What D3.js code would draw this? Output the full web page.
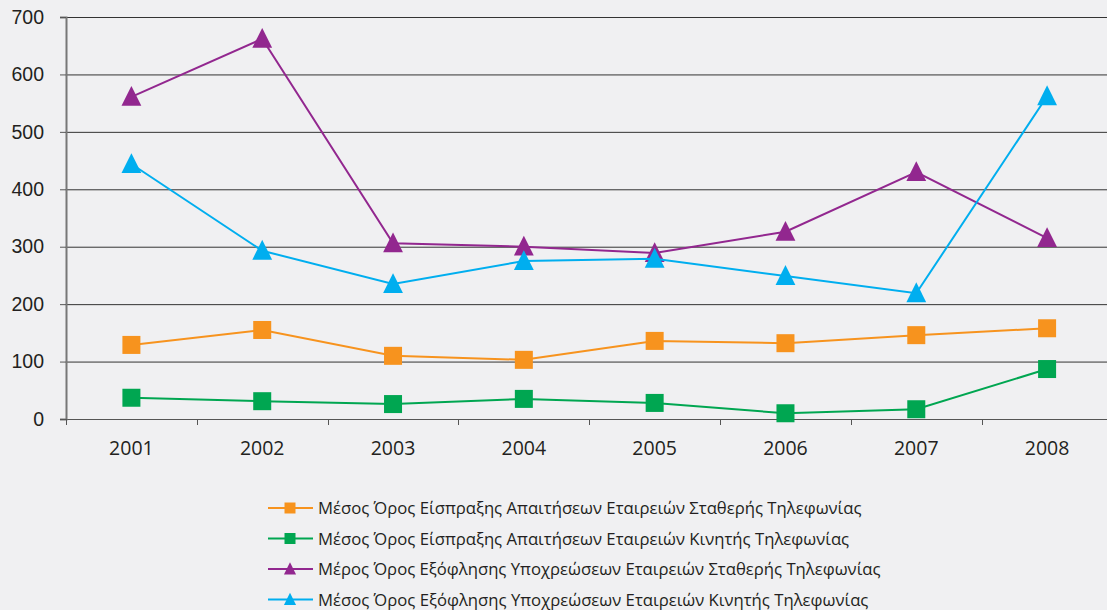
<!DOCTYPE html>
<html>
<head>
<meta charset="utf-8">
<script src="https://cdn.jsdelivr.net/npm/d3@7"></script>
<style>
body{margin:0;background:#f0f0f2;}
svg{display:block;font-family:"Open Sans","Noto Sans",sans-serif;}
</style>
</head>
<body>
<svg id="chart"></svg>
<script>
// data
var years=["2001","2002","2003","2004","2005","2006","2007","2008"];
var eispraxiStatheri=[129,155,110,103,136,132,146,158];
var eispraxiKiniti=[37,31,26,35,28,10,17,87];
var exoflisiStatheri=[561,662,306,300,289,326,430,315];
var exoflisiKiniti=[444,293,235,275,279,249,219,562];
var yTicks=[0,100,200,300,400,500,600,700];
var names=[
 "Μέσος Όρος Είσπραξης Απαιτήσεων Εταιρειών Σταθερής Τηλεφωνίας",
 "Μέσος Όρος Είσπραξης Απαιτήσεων Εταιρειών Κινητής Τηλεφωνίας",
 "Μέρος Όρος Εξόφλησης Υποχρεώσεων Εταιρειών Σταθερής Τηλεφωνίας",
 "Μέσος Όρος Εξόφλησης Υποχρεώσεων Εταιρειών Κινητής Τηλεφωνίας"];
var colors=["#f7931e","#00a651","#92278f","#00aeef"];
var shapes=["square","square","triangle","triangle"];

var series=[eispraxiStatheri,eispraxiKiniti,exoflisiStatheri,exoflisiKiniti].map(function(v,i){
  return {name:names[i],color:colors[i],shape:shapes[i],values:v};
});

w=1107;h=610;
var svg=d3.select("#chart").attr("width",w).attr("height",h);
svg.append("rect").attr("width",w).attr("height",h).attr("fill","#f0f0f2");

var x=d3.scaleBand().domain(years).range([66,1112.5]);
var y=d3.scaleLinear().domain([0,700]).range([419,17]);

// grid
svg.selectAll(".grid").data(yTicks).enter().append("line")
  .attr("x1",66).attr("x2",w)
  .attr("y1",function(d){return y(d)+0.5;}).attr("y2",function(d){return y(d)+0.5;})
  .style("stroke",function(d){return d==0?"#555":"#333";}).style("stroke-width",1);

// y axis
var yAxis=svg.append("g").attr("transform","translate(66,0)")
  .call(d3.axisLeft(y).tickValues(yTicks).tickSize(6).tickPadding(16));
yAxis.select(".domain").style("stroke","#777").style("stroke-width",2);
yAxis.selectAll(".tick line").style("stroke","#555");
yAxis.selectAll("text").style("font-size","19.5px").style("fill","#231f20").style("font-family","inherit");

// x axis
var xAxis=svg.append("g").attr("transform","translate(0,"+y(0)+")");
xAxis.selectAll(".xt").data(d3.range(years.length+1)).enter().append("line")
  .attr("x1",function(i){return Math.round(66+i*x.step())+0.5;})
  .attr("x2",function(i){return Math.round(66+i*x.step())+0.5;})
  .attr("y1",0).attr("y2",6).style("stroke","#555");
xAxis.selectAll(".xl").data(years).enter().append("text")
  .attr("x",function(d){return x(d)+x.bandwidth()/2;}).attr("y",36)
  .attr("text-anchor","middle").style("font-size","19.5px").style("fill","#231f20").text(function(d){return d;});

var cx=function(i){return x(years[i])+x.bandwidth()/2;};
var line=d3.line().x(function(d,i){return cx(i);}).y(function(d){return y(d);});

function marker(g,shape,color,size){
  if(shape=="square"){
    g.append("rect").attr("x",-size/2).attr("y",-size/2).attr("width",size).attr("height",size).attr("fill",color);
  } else {
    var s=size*1.1;
    g.append("path").attr("d","M0,"+(-s*0.55)+"L"+(s/2)+","+(s*0.45)+"L"+(-s/2)+","+(s*0.45)+"Z").attr("fill",color);
  }
}

var gs=svg.selectAll(".series").data(series).enter().append("g");
gs.append("path").attr("d",function(d){return line(d.values);})
  .style("fill","none").style("stroke",function(d){return d.color;}).style("stroke-width",2);
gs.each(function(s){
  var g=d3.select(this);
  s.values.forEach(function(v,i){
    marker(g.append("g").attr("transform","translate("+cx(i)+","+y(v)+")"),s.shape,s.color,18);
  });
});

// legend
var lg=svg.selectAll(".legend").data(series).enter().append("g")
  .attr("transform",function(d,i){return "translate(268,"+(508+i*30.5)+")";});
lg.append("line").attr("x1",0).attr("x2",45).attr("y1",0).attr("y2",0)
  .style("stroke",function(d){return d.color;}).style("stroke-width",2);
lg.each(function(d){marker(d3.select(this).append("g").attr("transform","translate(22,0)"),d.shape,d.color,11);});
lg.append("text").attr("x",50).attr("y",6).style("font-size","16.7px").style("fill","#231f20")
  .text(function(d){return d.name;});
</script>
</body>
</html>
